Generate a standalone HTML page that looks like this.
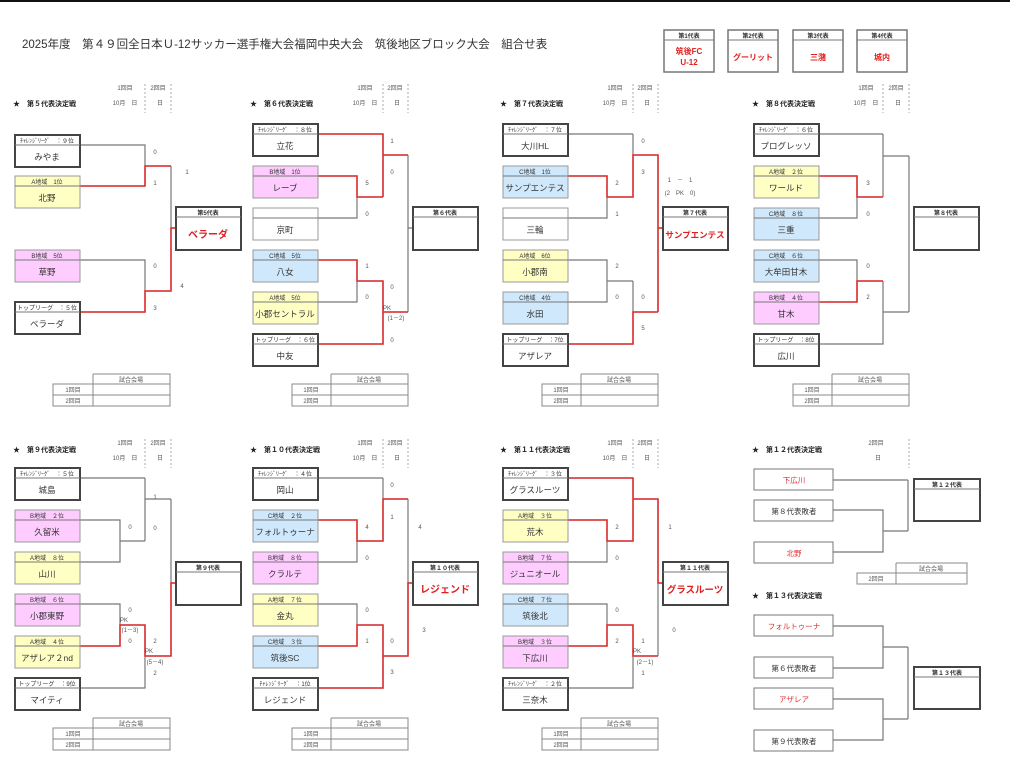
<!DOCTYPE html>
<html><head><meta charset="utf-8"><style>
html,body{margin:0;padding:0;background:#fff}
svg{display:block;font-family:"Liberation Sans","Noto Sans CJK JP",sans-serif}
text{text-anchor:middle;fill:#333}
.h{font-size:6px}.n{font-size:8.5px}.sc{font-size:6px;fill:#555}.tt{font-size:7px;font-weight:bold;text-anchor:start;fill:#222}
.k{fill:#fff;stroke:#444;stroke-width:2}.y{fill:#ffffc4;stroke:#999}.p{fill:#ffccff;stroke:#999}.b{fill:#cfe8fb;stroke:#999}.w{fill:#fff;stroke:#999}
.s{stroke:#777;stroke-width:1}
.g{fill:none;stroke:#777;stroke-width:1.2}.r{fill:none;stroke:#e03030;stroke-width:1.6}
.d{stroke:#aaa;stroke-width:1;stroke-dasharray:2 2}
.t{fill:none;stroke:#888;stroke-width:1}
.red{fill:#e02020;font-weight:bold}
</style></head><body>
<svg width="1010" height="775" viewBox="0 0 1010 775" xmlns="http://www.w3.org/2000/svg">
<rect x="0" y="0" width="1010" height="2" fill="#111"/>
<text x="22" y="48" style="font-size:11.5px;text-anchor:start;fill:#333">2025年度　第４９回全日本Ｕ-12サッカー選手権大会福岡中央大会　筑後地区ブロック大会　組合せ表</text>

<g transform="translate(664,30)"><rect class="w" width="50" height="42" style="stroke:#777;stroke-width:1.5"/><line class="s" x1="0" y1="10" x2="50" y2="10"/><text class="h" x="25" y="8" style="font-weight:bold">第1代表</text><text class="red" x="25" y="24" style="font-size:8px">筑後FC</text><text class="red" x="25" y="35" style="font-size:8px">U-12</text></g>
<g transform="translate(728,30)"><rect class="w" width="50" height="42" style="stroke:#777;stroke-width:1.5"/><line class="s" x1="0" y1="10" x2="50" y2="10"/><text class="h" x="25" y="8" style="font-weight:bold">第2代表</text><text class="red" x="25" y="30" style="font-size:8px">グーリット</text></g>
<g transform="translate(793,30)"><rect class="w" width="50" height="42" style="stroke:#777;stroke-width:1.5"/><line class="s" x1="0" y1="10" x2="50" y2="10"/><text class="h" x="25" y="8" style="font-weight:bold">第3代表</text><text class="red" x="25" y="30" style="font-size:8px">三潴</text></g>
<g transform="translate(857,30)"><rect class="w" width="50" height="42" style="stroke:#777;stroke-width:1.5"/><line class="s" x1="0" y1="10" x2="50" y2="10"/><text class="h" x="25" y="8" style="font-weight:bold">第4代表</text><text class="red" x="25" y="30" style="font-size:8px">城内</text></g>

<text class="tt" x="13" y="106">★　第５代表決定戦</text>
<text class="tt" x="250" y="106">★　第６代表決定戦</text>
<text class="tt" x="500" y="106">★　第７代表決定戦</text>
<text class="tt" x="752" y="106">★　第８代表決定戦</text>
<text class="tt" x="13" y="452">★　第９代表決定戦</text>
<text class="tt" x="250" y="452">★　第１０代表決定戦</text>
<text class="tt" x="500" y="452">★　第１１代表決定戦</text>
<text class="tt" x="752" y="452">★　第１２代表決定戦</text>
<text class="tt" x="752" y="598">★　第１３代表決定戦</text>

<g class="sc">
<text class="sc" x="125" y="90">1回目</text><text class="sc" x="158" y="90">2回目</text><text class="sc" x="125" y="105">10月　日</text><text class="sc" x="160" y="105">日</text>
<text class="sc" x="365" y="90">1回目</text><text class="sc" x="395" y="90">2回目</text><text class="sc" x="365" y="105">10月　日</text><text class="sc" x="397" y="105">日</text>
<text class="sc" x="615" y="90">1回目</text><text class="sc" x="645" y="90">2回目</text><text class="sc" x="615" y="105">10月　日</text><text class="sc" x="647" y="105">日</text>
<text class="sc" x="866" y="90">1回目</text><text class="sc" x="896" y="90">2回目</text><text class="sc" x="866" y="105">10月　日</text><text class="sc" x="898" y="105">日</text>
<text class="sc" x="125" y="445">1回目</text><text class="sc" x="158" y="445">2回目</text><text class="sc" x="125" y="460">10月　日</text><text class="sc" x="160" y="460">日</text>
<text class="sc" x="365" y="445">1回目</text><text class="sc" x="395" y="445">2回目</text><text class="sc" x="365" y="460">10月　日</text><text class="sc" x="397" y="460">日</text>
<text class="sc" x="615" y="445">1回目</text><text class="sc" x="645" y="445">2回目</text><text class="sc" x="615" y="460">10月　日</text><text class="sc" x="647" y="460">日</text>
<text class="sc" x="876" y="445">2回目</text><text class="sc" x="878" y="460">日</text>
</g>
<g>
<line class="d" x1="145" y1="84" x2="145" y2="113"/><line class="d" x1="171" y1="84" x2="171" y2="113"/>
<line class="d" x1="383" y1="84" x2="383" y2="113"/><line class="d" x1="408" y1="84" x2="408" y2="113"/>
<line class="d" x1="633" y1="84" x2="633" y2="113"/><line class="d" x1="658" y1="84" x2="658" y2="113"/>
<line class="d" x1="883" y1="84" x2="883" y2="113"/><line class="d" x1="909" y1="84" x2="909" y2="113"/>
<line class="d" x1="145" y1="439" x2="145" y2="468"/><line class="d" x1="171" y1="439" x2="171" y2="468"/>
<line class="d" x1="383" y1="439" x2="383" y2="468"/><line class="d" x1="408" y1="439" x2="408" y2="468"/>
<line class="d" x1="633" y1="439" x2="633" y2="468"/><line class="d" x1="658" y1="439" x2="658" y2="468"/>
<line class="d" x1="909" y1="439" x2="909" y2="468"/>
</g>

<path class="g" d="M80 145H145V186H80M145 166H171M80 260H145V312H80M145 291H171M171 166V291M171 228H176"/>
<path class="g" d="M318 134H383M318 176H357V218H318M357 197H383M383 134V197M383 155H408M318 260H357V302H318M357 281H383M318 344H383V281M383 312H408M408 155V312M408 228H413"/>
<path class="g" d="M568 134H633M568 176H607V218H568M607 197H633M633 134V197M633 155H658M568 260H607V302H568M607 281H633M568 344H633V281M633 312H658M658 155V312M658 228H663"/>
<path class="g" d="M819 134H883M819 176H857V218H819M857 197H883M883 134V197M883 156H909M819 260H857V302H819M857 281H883M819 344H883V281M883 312H909M909 156V312"/>
<path class="g" d="M80 478H145M80 520H120V562H80M120 541H145M145 478V541M145 499H171M80 604H120V646H80M120 625H145M80 688H145V625M145 656H171M171 499V656M171 583H176"/>
<path class="g" d="M318 478H383M318 520H357V562H318M357 541H383M383 478V541M383 499H408M318 604H357V646H318M357 625H383M318 688H383V625M383 656H408M408 499V656M408 583H413"/>
<path class="g" d="M568 478H633M568 520H607V562H568M607 541H633M633 478V541M633 499H658M568 604H607V646H568M607 625H633M568 688H633V625M633 656H658M658 499V656M658 583H663"/>
<path class="g" d="M833 480H908M833 510H883V552H833M883 531H908M908 480V531M833 626H883V668H833M883 647H908M833 699H883V740H833M883 719H908M908 647V719"/>

<path class="r" d="M80 186H145V166H171M80 312H145V291H171V228H176"/>
<path class="r" d="M318 134H383V197M318 176H357V197H383M383 155H408M318 260H357V281H383V344H318M383 312H408"/>
<path class="r" d="M568 176H607V197H633V155H658V312M658 228H663M568 344H633V312H658"/>
<path class="r" d="M819 176H857V197H883M819 302H857V281H883"/>
<path class="r" d="M80 646H120V625H145V656H171V583H176"/>
<path class="r" d="M318 520H357V541H383V499H408M318 646H357V625H383V688H318M383 656H408V583H413"/>
<path class="r" d="M568 478H633V541H607V520H568M633 499H658V583H663M568 646H607V625H633V656H658"/>

<g transform="translate(15,135)"><rect class="k" width="65" height="32"/><line class="s" x1="0" y1="10" x2="65" y2="10"/><text class="h" x="32" y="8">ﾁｬﾚﾝｼﾞﾘｰｸﾞ　：９位</text><text class="n" x="32" y="25">みやま</text></g>
<g transform="translate(15,176)"><rect class="y" width="65" height="32"/><line class="s" x1="0" y1="10" x2="65" y2="10"/><text class="h" x="32" y="8">A地域　1位</text><text class="n" x="32" y="25">北野</text></g>
<g transform="translate(15,250)"><rect class="p" width="65" height="32"/><line class="s" x1="0" y1="10" x2="65" y2="10"/><text class="h" x="32" y="8">B地域　5位</text><text class="n" x="32" y="25">草野</text></g>
<g transform="translate(15,302)"><rect class="k" width="65" height="32"/><line class="s" x1="0" y1="10" x2="65" y2="10"/><text class="h" x="32" y="8">トップリーグ　：５位</text><text class="n" x="32" y="25">ベラーダ</text></g>

<g transform="translate(253,124)"><rect class="k" width="65" height="32"/><line class="s" x1="0" y1="10" x2="65" y2="10"/><text class="h" x="32" y="8">ﾁｬﾚﾝｼﾞﾘｰｸﾞ　：８位</text><text class="n" x="32" y="25">立花</text></g>
<g transform="translate(253,166)"><rect class="p" width="65" height="32"/><line class="s" x1="0" y1="10" x2="65" y2="10"/><text class="h" x="32" y="8">B地域　1位</text><text class="n" x="32" y="25">レーブ</text></g>
<g transform="translate(253,208)"><rect class="w" width="65" height="32"/><line class="s" x1="0" y1="10" x2="65" y2="10"/><text class="n" x="32" y="25">京町</text></g>
<g transform="translate(253,250)"><rect class="b" width="65" height="32"/><line class="s" x1="0" y1="10" x2="65" y2="10"/><text class="h" x="32" y="8">C地域　5位</text><text class="n" x="32" y="25">八女</text></g>
<g transform="translate(253,292)"><rect class="y" width="65" height="32"/><line class="s" x1="0" y1="10" x2="65" y2="10"/><text class="h" x="32" y="8">A地域　5位</text><text class="n" x="32" y="25">小郡セントラル</text></g>
<g transform="translate(253,334)"><rect class="k" width="65" height="32"/><line class="s" x1="0" y1="10" x2="65" y2="10"/><text class="h" x="32" y="8">トップリーグ　：６位</text><text class="n" x="32" y="25">中友</text></g>

<g transform="translate(503,124)"><rect class="k" width="65" height="32"/><line class="s" x1="0" y1="10" x2="65" y2="10"/><text class="h" x="32" y="8">ﾁｬﾚﾝｼﾞﾘｰｸﾞ　：７位</text><text class="n" x="32" y="25">大川HL</text></g>
<g transform="translate(503,166)"><rect class="b" width="65" height="32"/><line class="s" x1="0" y1="10" x2="65" y2="10"/><text class="h" x="32" y="8">C地域　1位</text><text class="n" x="32" y="25">サンプエンテス</text></g>
<g transform="translate(503,208)"><rect class="w" width="65" height="32"/><line class="s" x1="0" y1="10" x2="65" y2="10"/><text class="n" x="32" y="25">三輪</text></g>
<g transform="translate(503,250)"><rect class="y" width="65" height="32"/><line class="s" x1="0" y1="10" x2="65" y2="10"/><text class="h" x="32" y="8">A地域　6位</text><text class="n" x="32" y="25">小郡南</text></g>
<g transform="translate(503,292)"><rect class="b" width="65" height="32"/><line class="s" x1="0" y1="10" x2="65" y2="10"/><text class="h" x="32" y="8">C地域　4位</text><text class="n" x="32" y="25">水田</text></g>
<g transform="translate(503,334)"><rect class="k" width="65" height="32"/><line class="s" x1="0" y1="10" x2="65" y2="10"/><text class="h" x="32" y="8">トップリーグ　：7位</text><text class="n" x="32" y="25">アザレア</text></g>

<g transform="translate(754,124)"><rect class="k" width="65" height="32"/><line class="s" x1="0" y1="10" x2="65" y2="10"/><text class="h" x="32" y="8">ﾁｬﾚﾝｼﾞﾘｰｸﾞ　：６位</text><text class="n" x="32" y="25">プログレッソ</text></g>
<g transform="translate(754,166)"><rect class="y" width="65" height="32"/><line class="s" x1="0" y1="10" x2="65" y2="10"/><text class="h" x="32" y="8">A地域　２位</text><text class="n" x="32" y="25">ワールド</text></g>
<g transform="translate(754,208)"><rect class="b" width="65" height="32"/><line class="s" x1="0" y1="10" x2="65" y2="10"/><text class="h" x="32" y="8">C地域　８位</text><text class="n" x="32" y="25">三重</text></g>
<g transform="translate(754,250)"><rect class="b" width="65" height="32"/><line class="s" x1="0" y1="10" x2="65" y2="10"/><text class="h" x="32" y="8">C地域　６位</text><text class="n" x="32" y="25">大牟田甘木</text></g>
<g transform="translate(754,292)"><rect class="p" width="65" height="32"/><line class="s" x1="0" y1="10" x2="65" y2="10"/><text class="h" x="32" y="8">B地域　４位</text><text class="n" x="32" y="25">甘木</text></g>
<g transform="translate(754,334)"><rect class="k" width="65" height="32"/><line class="s" x1="0" y1="10" x2="65" y2="10"/><text class="h" x="32" y="8">トップリーグ　：8位</text><text class="n" x="32" y="25">広川</text></g>

<g transform="translate(15,468)"><rect class="k" width="65" height="32"/><line class="s" x1="0" y1="10" x2="65" y2="10"/><text class="h" x="32" y="8">ﾁｬﾚﾝｼﾞﾘｰｸﾞ　：５位</text><text class="n" x="32" y="25">城島</text></g>
<g transform="translate(15,510)"><rect class="p" width="65" height="32"/><line class="s" x1="0" y1="10" x2="65" y2="10"/><text class="h" x="32" y="8">B地域　２位</text><text class="n" x="32" y="25">久留米</text></g>
<g transform="translate(15,552)"><rect class="y" width="65" height="32"/><line class="s" x1="0" y1="10" x2="65" y2="10"/><text class="h" x="32" y="8">A地域　８位</text><text class="n" x="32" y="25">山川</text></g>
<g transform="translate(15,594)"><rect class="p" width="65" height="32"/><line class="s" x1="0" y1="10" x2="65" y2="10"/><text class="h" x="32" y="8">B地域　６位</text><text class="n" x="32" y="25">小郡東野</text></g>
<g transform="translate(15,636)"><rect class="y" width="65" height="32"/><line class="s" x1="0" y1="10" x2="65" y2="10"/><text class="h" x="32" y="8">A地域　４位</text><text class="n" x="32" y="25">アザレア２nd</text></g>
<g transform="translate(15,678)"><rect class="k" width="65" height="32"/><line class="s" x1="0" y1="10" x2="65" y2="10"/><text class="h" x="32" y="8">トップリーグ　：9位</text><text class="n" x="32" y="25">マイティ</text></g>

<g transform="translate(253,468)"><rect class="k" width="65" height="32"/><line class="s" x1="0" y1="10" x2="65" y2="10"/><text class="h" x="32" y="8">ﾁｬﾚﾝｼﾞﾘｰｸﾞ　：４位</text><text class="n" x="32" y="25">岡山</text></g>
<g transform="translate(253,510)"><rect class="b" width="65" height="32"/><line class="s" x1="0" y1="10" x2="65" y2="10"/><text class="h" x="32" y="8">C地域　２位</text><text class="n" x="32" y="25">フォルトゥーナ</text></g>
<g transform="translate(253,552)"><rect class="p" width="65" height="32"/><line class="s" x1="0" y1="10" x2="65" y2="10"/><text class="h" x="32" y="8">B地域　８位</text><text class="n" x="32" y="25">クラルテ</text></g>
<g transform="translate(253,594)"><rect class="y" width="65" height="32"/><line class="s" x1="0" y1="10" x2="65" y2="10"/><text class="h" x="32" y="8">A地域　７位</text><text class="n" x="32" y="25">金丸</text></g>
<g transform="translate(253,636)"><rect class="b" width="65" height="32"/><line class="s" x1="0" y1="10" x2="65" y2="10"/><text class="h" x="32" y="8">C地域　３位</text><text class="n" x="32" y="25">筑後SC</text></g>
<g transform="translate(253,678)"><rect class="k" width="65" height="32"/><line class="s" x1="0" y1="10" x2="65" y2="10"/><text class="h" x="32" y="8">ﾁｬﾚﾝｼﾞﾘｰｸﾞ　：1位</text><text class="n" x="32" y="25">レジェンド</text></g>

<g transform="translate(503,468)"><rect class="k" width="65" height="32"/><line class="s" x1="0" y1="10" x2="65" y2="10"/><text class="h" x="32" y="8">ﾁｬﾚﾝｼﾞﾘｰｸﾞ　：３位</text><text class="n" x="32" y="25">グラスルーツ</text></g>
<g transform="translate(503,510)"><rect class="y" width="65" height="32"/><line class="s" x1="0" y1="10" x2="65" y2="10"/><text class="h" x="32" y="8">A地域　３位</text><text class="n" x="32" y="25">荒木</text></g>
<g transform="translate(503,552)"><rect class="p" width="65" height="32"/><line class="s" x1="0" y1="10" x2="65" y2="10"/><text class="h" x="32" y="8">B地域　７位</text><text class="n" x="32" y="25">ジュニオール</text></g>
<g transform="translate(503,594)"><rect class="b" width="65" height="32"/><line class="s" x1="0" y1="10" x2="65" y2="10"/><text class="h" x="32" y="8">C地域　７位</text><text class="n" x="32" y="25">筑後北</text></g>
<g transform="translate(503,636)"><rect class="p" width="65" height="32"/><line class="s" x1="0" y1="10" x2="65" y2="10"/><text class="h" x="32" y="8">B地域　３位</text><text class="n" x="32" y="25">下広川</text></g>
<g transform="translate(503,678)"><rect class="k" width="65" height="32"/><line class="s" x1="0" y1="10" x2="65" y2="10"/><text class="h" x="32" y="8">ﾁｬﾚﾝｼﾞﾘｰｸﾞ　：２位</text><text class="n" x="32" y="25">三奈木</text></g>

<g transform="translate(754,469)"><rect class="w" width="79" height="21" style="stroke:#777"/><text x="40" y="14" style="font-size:7.5px;fill:#e03030">下広川</text></g>
<g transform="translate(754,500)"><rect class="w" width="79" height="21" style="stroke:#777"/><text x="40" y="14" style="font-size:7.5px">第８代表敗者</text></g>
<g transform="translate(754,542)"><rect class="w" width="79" height="21" style="stroke:#777"/><text x="40" y="14" style="font-size:7.5px;fill:#e03030">北野</text></g>
<g transform="translate(754,615)"><rect class="w" width="79" height="21" style="stroke:#777"/><text x="40" y="14" style="font-size:7.5px;fill:#e03030">フォルトゥーナ</text></g>
<g transform="translate(754,657)"><rect class="w" width="79" height="21" style="stroke:#777"/><text x="40" y="14" style="font-size:7.5px">第６代表敗者</text></g>
<g transform="translate(754,688)"><rect class="w" width="79" height="21" style="stroke:#777"/><text x="40" y="14" style="font-size:7.5px;fill:#e03030">アザレア</text></g>
<g transform="translate(754,730)"><rect class="w" width="79" height="21" style="stroke:#777"/><text x="40" y="14" style="font-size:7.5px">第９代表敗者</text></g>

<g transform="translate(176,207)"><rect class="k" width="65" height="43"/><line class="s" x1="0" y1="10" x2="65" y2="10"/><text class="h" x="32" y="8" style="font-weight:bold">第5代表</text><text class="red" x="32" y="31" style="font-size:10px">ベラーダ</text></g>
<g transform="translate(413,207)"><rect class="k" width="65" height="43"/><line class="s" x1="0" y1="10" x2="65" y2="10"/><text class="h" x="32" y="8" style="font-weight:bold">第６代表</text></g>
<g transform="translate(663,207)"><rect class="k" width="65" height="43"/><line class="s" x1="0" y1="10" x2="65" y2="10"/><text class="h" x="32" y="8" style="font-weight:bold">第７代表</text><text class="red" x="32" y="31" style="font-size:8.5px">サンプエンテス</text></g>
<g transform="translate(914,207)"><rect class="k" width="65" height="43"/><line class="s" x1="0" y1="10" x2="65" y2="10"/><text class="h" x="32" y="8" style="font-weight:bold">第８代表</text></g>
<g transform="translate(176,562)"><rect class="k" width="65" height="43"/><line class="s" x1="0" y1="10" x2="65" y2="10"/><text class="h" x="32" y="8" style="font-weight:bold">第９代表</text></g>
<g transform="translate(413,562)"><rect class="k" width="65" height="43"/><line class="s" x1="0" y1="10" x2="65" y2="10"/><text class="h" x="32" y="8" style="font-weight:bold">第１０代表</text><text class="red" x="32" y="31" style="font-size:10px">レジェンド</text></g>
<g transform="translate(663,562)"><rect class="k" width="65" height="43"/><line class="s" x1="0" y1="10" x2="65" y2="10"/><text class="h" x="32" y="8" style="font-weight:bold">第１１代表</text><text class="red" x="32" y="31" style="font-size:9.5px">グラスルーツ</text></g>
<g transform="translate(914,479)"><rect class="k" width="66" height="42"/><line class="s" x1="0" y1="10" x2="66" y2="10"/><text class="h" x="33" y="8" style="font-weight:bold">第１２代表</text></g>
<g transform="translate(914,667)"><rect class="k" width="66" height="42"/><line class="s" x1="0" y1="10" x2="66" y2="10"/><text class="h" x="33" y="8" style="font-weight:bold">第１３代表</text></g>

<g class="t">
<path class="t" d="M93 374H170V406H53V384H170M53 395H170M93 374V406"/>
<path class="t" d="M331 374H408V406H292V384H408M292 395H408M331 374V406"/>
<path class="t" d="M581 374H658V406H542V384H658M542 395H658M581 374V406"/>
<path class="t" d="M832 374H909V406H793V384H909M793 395H909M832 374V406"/>
<path class="t" d="M93 718H170V750H53V728H170M53 739H170M93 718V750"/>
<path class="t" d="M331 718H408V750H292V728H408M292 739H408M331 718V750"/>
<path class="t" d="M581 718H658V750H542V728H658M542 739H658M581 718V750"/>
<path class="t" d="M896 563H967V584H857V573H967M896 563V584"/>
</g>
<g>
<text class="sc" x="131" y="382">試合会場</text><text class="sc" x="73" y="392">1回目</text><text class="sc" x="73" y="403">2回目</text>
<text class="sc" x="369" y="382">試合会場</text><text class="sc" x="311" y="392">1回目</text><text class="sc" x="311" y="403">2回目</text>
<text class="sc" x="619" y="382">試合会場</text><text class="sc" x="561" y="392">1回目</text><text class="sc" x="561" y="403">2回目</text>
<text class="sc" x="870" y="382">試合会場</text><text class="sc" x="812" y="392">1回目</text><text class="sc" x="812" y="403">2回目</text>
<text class="sc" x="131" y="726">試合会場</text><text class="sc" x="73" y="736">1回目</text><text class="sc" x="73" y="747">2回目</text>
<text class="sc" x="369" y="726">試合会場</text><text class="sc" x="311" y="736">1回目</text><text class="sc" x="311" y="747">2回目</text>
<text class="sc" x="619" y="726">試合会場</text><text class="sc" x="561" y="736">1回目</text><text class="sc" x="561" y="747">2回目</text>
<text class="sc" x="931" y="571">試合会場</text><text class="sc" x="876" y="581">2回目</text>
</g>

<g>
<text class="sc" x="155" y="154">0</text><text class="sc" x="155" y="185">1</text><text class="sc" x="187" y="174">1</text>
<text class="sc" x="155" y="268">0</text><text class="sc" x="155" y="310">3</text><text class="sc" x="182" y="288">4</text>
<text class="sc" x="392" y="143">1</text><text class="sc" x="392" y="174">0</text><text class="sc" x="367" y="185">5</text><text class="sc" x="367" y="216">0</text>
<text class="sc" x="367" y="268">1</text><text class="sc" x="367" y="299">0</text><text class="sc" x="392" y="289">0</text><text class="sc" x="387" y="310">PK</text><text class="sc" x="396" y="320">(1－2)</text><text class="sc" x="392" y="342">0</text>
<text class="sc" x="643" y="143">0</text><text class="sc" x="643" y="174">3</text><text class="sc" x="617" y="185">2</text><text class="sc" x="617" y="216">1</text>
<text class="sc" x="680" y="182">1　－　1</text><text class="sc" x="680" y="195">(2　PK　0)</text>
<text class="sc" x="617" y="268">2</text><text class="sc" x="617" y="299">0</text><text class="sc" x="643" y="299">0</text><text class="sc" x="643" y="330">5</text>
<text class="sc" x="868" y="185">3</text><text class="sc" x="868" y="216">0</text><text class="sc" x="868" y="268">0</text><text class="sc" x="868" y="299">2</text>
<text class="sc" x="155" y="499">1</text><text class="sc" x="130" y="529">0</text><text class="sc" x="155" y="530">0</text>
<text class="sc" x="130" y="612">0</text><text class="sc" x="124" y="622">PK</text><text class="sc" x="130" y="632">(1－3)</text><text class="sc" x="130" y="643">0</text><text class="sc" x="155" y="643">2</text><text class="sc" x="149" y="653">PK</text><text class="sc" x="155" y="664">(5－4)</text><text class="sc" x="155" y="675">2</text>
<text class="sc" x="392" y="487">0</text><text class="sc" x="392" y="519">1</text><text class="sc" x="367" y="529">4</text><text class="sc" x="367" y="560">0</text><text class="sc" x="420" y="529">4</text>
<text class="sc" x="367" y="612">0</text><text class="sc" x="367" y="643">1</text><text class="sc" x="392" y="643">0</text><text class="sc" x="392" y="674">3</text><text class="sc" x="424" y="632">3</text>
<text class="sc" x="617" y="529">2</text><text class="sc" x="617" y="560">0</text><text class="sc" x="670" y="529">1</text>
<text class="sc" x="617" y="612">0</text><text class="sc" x="617" y="643">2</text><text class="sc" x="643" y="643">1</text><text class="sc" x="637" y="653">PK</text><text class="sc" x="645" y="664">(2－1)</text><text class="sc" x="643" y="675">1</text><text class="sc" x="674" y="632">0</text>
</g>
</svg>
</body></html>
